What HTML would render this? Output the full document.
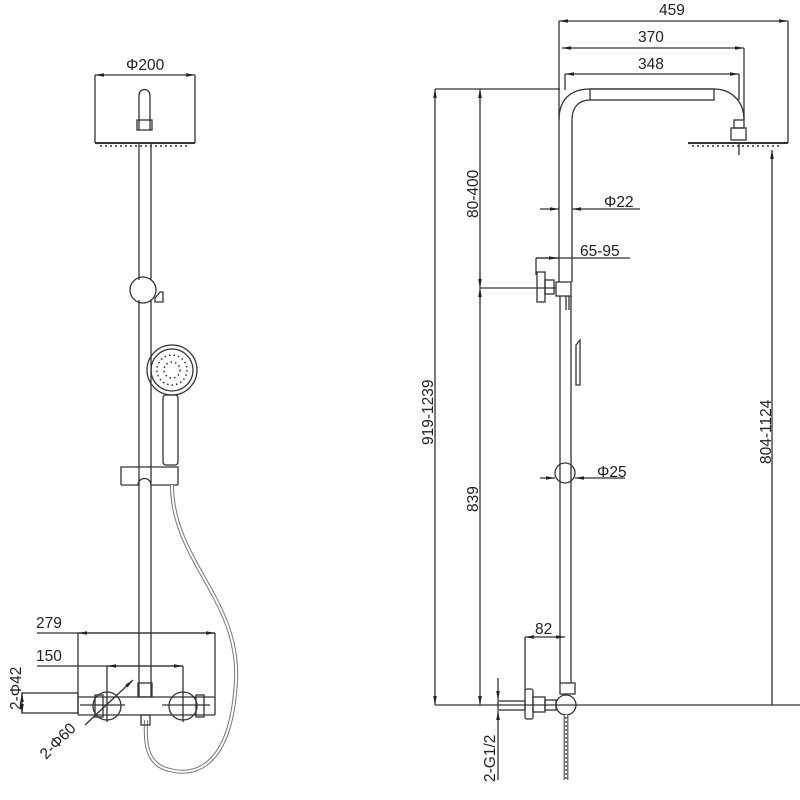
<!DOCTYPE html>
<html><head><meta charset="utf-8"><style>
html,body{margin:0;padding:0;background:#fff;}
svg{display:block}
text{font-family:"Liberation Sans",sans-serif;font-size:15.5px;fill:#222}
</style></head><body>
<svg width="800" height="800" viewBox="0 0 800 800" xmlns="http://www.w3.org/2000/svg">
<defs>
<marker id="a" viewBox="0 0 10 10" refX="10" refY="5" markerWidth="7" markerHeight="7" orient="auto-start-reverse"><path d="M0,3 L10,5 L0,7 z" fill="#222"/></marker>
</defs>
<g stroke="#333" stroke-width="1.3" fill="none">
<!-- LEFT FIGURE -->
<line x1="95" y1="75" x2="195" y2="75" marker-start="url(#a)" marker-end="url(#a)"/>
<line x1="95" y1="75" x2="95" y2="143"/><line x1="195" y1="75" x2="195" y2="143"/>
<path d="M139,130 L139,95 A5.5,5.5 0 0 1 150,95 L150,130"/>
<rect x="137" y="120" width="15" height="10"/>
<line x1="95" y1="143" x2="195" y2="143" stroke-width="2"/>
<line x1="100" y1="146" x2="190" y2="146" stroke-dasharray="2 3" stroke-width="1.5"/>
<line x1="139" y1="143" x2="139" y2="280"/><line x1="151" y1="143" x2="151" y2="280"/>
<circle cx="143" cy="290" r="13"/>
<path d="M155,298 L160,292 L163,292 L163,302 L155,302 z"/>
<line x1="139" y1="300" x2="139" y2="697"/><line x1="151" y1="300" x2="151" y2="697"/>
<circle cx="172" cy="370" r="25"/><circle cx="172" cy="370" r="21"/>
<g stroke-dasharray="1.5 3" stroke-width="1.5"><circle cx="172" cy="370" r="15"/><circle cx="172" cy="370" r="8"/></g>
<rect x="163" y="395" width="15" height="70" rx="3"/>
<path d="M121,485 L121,467 L178,467 L178,485 M121,485 L138,485 A6,6 0 0 1 151,485 L178,485"/>
<path d="M172,485 C172,560 240,600 236,680 C232,760 200,778 170,770 C145,765 145,740 146,720" stroke-width="4" stroke="#777"/>
<path d="M172,485 C172,560 240,600 236,680 C232,760 200,778 170,770 C145,765 145,740 146,720" stroke-width="2" stroke="#fff"/>
<line x1="37" y1="633" x2="215" y2="633"/>
<line x1="78" y1="633" x2="215" y2="633" marker-start="url(#a)" marker-end="url(#a)"/>
<line x1="78" y1="633" x2="78" y2="715"/><line x1="215" y1="633" x2="215" y2="715"/>
<line x1="37" y1="666" x2="183" y2="666"/>
<line x1="107" y1="666" x2="183" y2="666" marker-start="url(#a)" marker-end="url(#a)"/>
<line x1="107" y1="666" x2="107" y2="722"/><line x1="183" y1="666" x2="183" y2="722"/>
<rect x="22" y="693" width="56" height="20"/>
<line x1="22" y1="693" x2="22" y2="713" marker-start="url(#a)" marker-end="url(#a)"/>
<path d="M78,697 L215,697 M78,715 L215,715"/>
<path d="M80,705 L125,705 M162,705 L210,705"/>
<circle cx="107" cy="706" r="14"/><circle cx="183" cy="706" r="14"/>
<rect x="95" y="695" width="8" height="22"/><rect x="196" y="695" width="8" height="22"/>
<rect x="138" y="683" width="14" height="14"/><rect x="141" y="715" width="9" height="10"/>
<line x1="85" y1="725" x2="133" y2="680" marker-end="url(#a)"/>
<!-- RIGHT FIGURE -->
<line x1="559" y1="21" x2="788" y2="21" marker-start="url(#a)" marker-end="url(#a)"/>
<line x1="562" y1="48" x2="744" y2="48" marker-start="url(#a)" marker-end="url(#a)"/>
<line x1="565" y1="74" x2="739" y2="74" marker-start="url(#a)" marker-end="url(#a)"/>
<line x1="559" y1="21" x2="559" y2="120"/><line x1="744" y1="48" x2="744" y2="120"/>
<line x1="565" y1="74" x2="565" y2="90"/><line x1="739" y1="74" x2="739" y2="100"/>
<line x1="788" y1="21" x2="788" y2="143"/>
<path d="M559,120 C559,100 570,89 590,89 L714,89 C730,89 744,100 744,120"/>
<path d="M572,120 C572,108 578,100 590,100"/>
<rect x="590" y="89" width="124" height="11"/>
<rect x="731" y="128" width="15" height="12"/><rect x="734" y="120" width="10" height="8"/>
<line x1="688" y1="143" x2="788" y2="143" stroke-width="2"/>
<line x1="692" y1="146" x2="782" y2="146" stroke-dasharray="2 3" stroke-width="1.5"/>
<line x1="739" y1="143" x2="739" y2="155"/>
<line x1="559" y1="120" x2="559" y2="282"/><line x1="572" y1="120" x2="572" y2="282"/>
<line x1="560" y1="296" x2="560" y2="683"/><line x1="571" y1="296" x2="571" y2="683"/>
<line x1="566" y1="296" x2="566" y2="310"/><line x1="569" y1="296" x2="569" y2="310"/>
<path d="M576,345 L580,340 L580,385 L576,385 z"/>
<line x1="772" y1="150" x2="772" y2="705" marker-start="url(#a)"/>
<line x1="435" y1="89" x2="560" y2="89"/>
<line x1="435" y1="89" x2="435" y2="705" marker-start="url(#a)" marker-end="url(#a)"/>
<line x1="480" y1="89" x2="480" y2="288" marker-start="url(#a)" marker-end="url(#a)"/>
<line x1="480" y1="288" x2="480" y2="705" marker-start="url(#a)" marker-end="url(#a)"/>
<line x1="480" y1="288" x2="556" y2="288"/>
<rect x="537" y="272" width="8" height="30"/><rect x="545" y="280" width="9" height="14"/>
<rect x="556" y="282" width="15" height="14"/>
<line x1="540" y1="209" x2="559" y2="209" marker-end="url(#a)"/>
<line x1="572" y1="209" x2="640" y2="209" marker-start="url(#a)"/>
<line x1="536" y1="258" x2="536" y2="275"/>
<line x1="536" y1="258" x2="630" y2="258"/>
<line x1="536" y1="258" x2="558" y2="258" marker-end="url(#a)"/>
<circle cx="565" cy="473" r="10"/>
<line x1="540" y1="478" x2="555" y2="478" marker-end="url(#a)"/>
<line x1="575" y1="478" x2="625" y2="478" marker-start="url(#a)"/>
<line x1="525" y1="637" x2="565" y2="637" marker-start="url(#a)" marker-end="url(#a)"/>
<line x1="525" y1="637" x2="525" y2="690"/>
<line x1="435" y1="705" x2="800" y2="705"/>
<rect x="560" y="683" width="15" height="11"/>
<circle cx="566" cy="705" r="10"/>
<rect x="525" y="689" width="8" height="30" rx="2"/>
<rect x="533" y="697" width="12" height="15"/><rect x="545" y="700" width="11" height="10"/>
<rect x="498" y="701" width="27" height="9"/>
<line x1="498" y1="678" x2="498" y2="700" marker-end="url(#a)"/>
<line x1="498" y1="711" x2="498" y2="780" marker-start="url(#a)"/>
<path d="M566,715 L566,780" stroke-width="5" stroke="#777"/>
<path d="M566,715 L566,780" stroke-width="2" stroke="#fff" stroke-dasharray="2 2"/>
</g>
<text x="126" y="70">Φ200</text>
<text x="36" y="628">279</text>
<text x="36" y="661">150</text>
<text transform="translate(21,710) rotate(-90)">2-Φ42</text>
<text transform="translate(46,760) rotate(-45)">2-Φ60</text>
<text x="659" y="15">459</text>
<text x="638" y="42">370</text>
<text x="638" y="69">348</text>
<text x="604" y="207">Φ22</text>
<text x="580" y="256">65-95</text>
<text x="597" y="477">Φ25</text>
<text x="535" y="634">82</text>
<text transform="translate(433,445) rotate(-90)">919-1239</text>
<text transform="translate(478,218) rotate(-90)">80-400</text>
<text transform="translate(478,512) rotate(-90)">839</text>
<text transform="translate(771,464) rotate(-90)">804-1124</text>
<text transform="translate(495,782) rotate(-90)">2-G1/2</text>
</svg>
</body></html>
